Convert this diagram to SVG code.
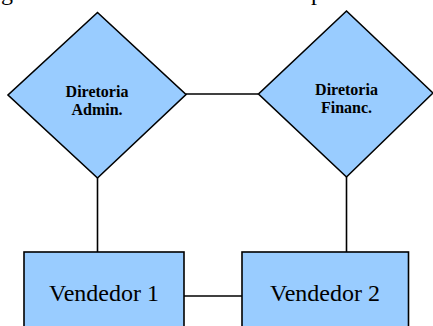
<svg xmlns="http://www.w3.org/2000/svg" width="433" height="326" viewBox="0 0 433 326">
<style>
.shape{fill:#99CCFF;stroke:#000;stroke-width:1.6}
.conn{stroke:#000;stroke-width:1.6;fill:none}
.dt{font-family:"Liberation Serif","Times New Roman",serif;font-weight:bold;font-size:16px;text-anchor:middle;fill:#000}
.rt{font-family:"Liberation Serif","Times New Roman",serif;font-size:24px;text-anchor:middle;fill:#000}
.frag{font-family:"Liberation Serif","Times New Roman",serif;font-size:24px;fill:#000}
</style>
<rect width="433" height="326" fill="#fff"/>
<text class="frag" x="1" y="-0.5">g</text>
<text class="frag" x="311" y="-0.5">p</text>
<g id="connectors">
<line class="conn" x1="186" y1="94" x2="258" y2="94"/>
<line class="conn" x1="97.5" y1="178" x2="97.5" y2="252"/>
<line class="conn" x1="346.5" y1="177" x2="346.5" y2="252"/>
<line class="conn" x1="184" y1="296" x2="242" y2="296"/>
</g>
<g id="diretoria-admin">
<polygon class="shape" points="97.5,12.5 186,94.5 97.5,178 8,95"/>
<text class="dt" x="97" y="96.5">Diretoria</text>
<text class="dt" x="97" y="114.5">Admin.</text>
</g>
<g id="diretoria-financ">
<polygon class="shape" points="346.5,11 433,93 346.5,177 258.5,94"/>
<text class="dt" x="346.5" y="95">Diretoria</text>
<text class="dt" x="346.5" y="113">Financ.</text>
</g>
<g id="vendedor-1">
<rect class="shape" x="24" y="252" width="160" height="90"/>
<text class="rt" x="104" y="300.5">Vendedor 1</text>
</g>
<g id="vendedor-2">
<rect class="shape" x="242" y="252" width="166.5" height="90"/>
<text class="rt" x="325" y="300.5">Vendedor 2</text>
</g>
</svg>
